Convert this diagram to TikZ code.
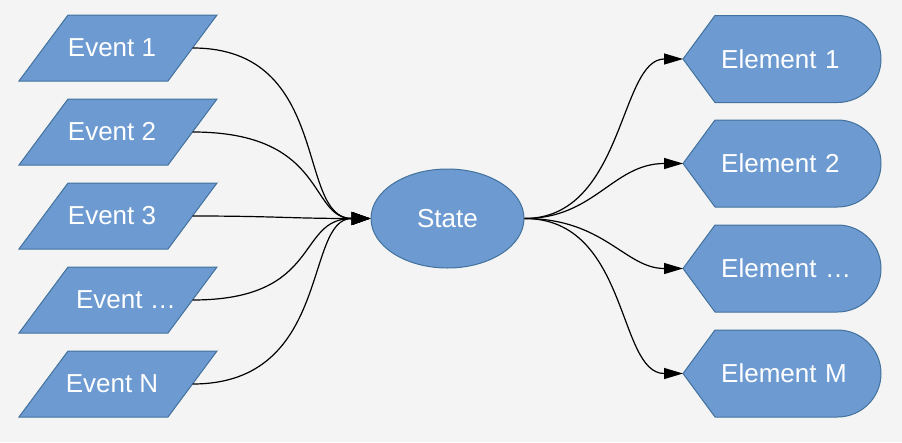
\documentclass[tikz,border=0pt]{standalone}
\usepackage{fontspec}
\setmainfont{Liberation Sans}
\usetikzlibrary{arrows.meta,shapes.geometric}
\definecolor{bg}{HTML}{F4F4F4}
\definecolor{boxfill}{HTML}{6D9BD1}
\definecolor{boxline}{HTML}{41719C}

\begin{document}
\begin{tikzpicture}[x=1pt,y=-1pt,
  shapestyle/.style={fill=boxfill, draw=boxline, line width=1pt, line join=miter},
  lbl/.style={text=white, font=\fontsize{26}{31}\selectfont, inner sep=0pt},
  evt/.style={lbl, minimum height=66pt},
  elm/.style={lbl, anchor=west, minimum height=87pt, inner xsep=38pt,
              text width=140pt, align=left},
  conn/.style={line width=1.2pt, -{Triangle[length=19pt,width=13pt]}},
  conn2/.style={line width=1.2pt, -{Triangle[length=19pt,width=11pt]}}]

  % background
  \fill[bg] (0,0) rectangle (902,442);
  \useasboundingbox (0,0) rectangle (902,442);

  % input events: parallelograms
  \foreach \n/\y/\cx/\t in {e1/48/112/Event 1, e2/132/112/Event 2,
                            e3/216/112/Event 3, e4/300/126/Event …,
                            e5/384/112/Event N}{
    \path[shapestyle] (68,\y-33) -- (217,\y-33) -- (168,\y+33) -- (19,\y+33) -- cycle;
    \node[evt, minimum width={2*(192.5-\cx)}] (\n) at (\cx,\y) {\t};
  }

  % central state
  \node[ellipse, shapestyle, lbl, minimum width=153pt, minimum height=99pt]
    (st) at (447.5,218.5) {State};

  % output elements: display shapes
  \foreach \n/\y/\t in {m1/59/Element 1, m2/163.5/Element 2,
                        m3/268.5/Element …, m4/373.5/Element M}{
    \path[shapestyle] (683,\y) -- (715,\y-43.5) -- (837.5,\y-43.5)
      arc[start angle=90, end angle=-90, radius=43.5pt]
      -- (715,\y+43.5) -- cycle;
    \node[elm] (\n) at (683,\y) {\t};
  }

  % events into state
  \draw[conn] (e1.east) .. controls +(140,0) and +(-75,0) .. (st.west);
  \draw[conn] (e2.east) .. controls +(135,0) and +(-62,0) .. (st.west);
  \draw[conn] (e3.east) .. controls +(80,0) and +(-80,0) .. (st.west);
  \draw[conn] (e4.east) .. controls +(130,0) and +(-75,0) .. (st.west);
  \draw[conn] (e5.east) .. controls +(140,0) and +(-67,0) .. (st.west);

  % state out to elements
  \draw[conn2] (st.east) .. controls +(100,0) and +(-64,0) .. (m1.west);
  \draw[conn2] (st.east) .. controls +(70,0) and +(-70,0) .. (m2.west);
  \draw[conn2] (st.east) .. controls +(80,0) and +(-58,0) .. (m3.west);
  \draw[conn2] (st.east) .. controls +(105,0) and +(-66,0) .. (m4.west);
\end{tikzpicture}
\end{document}
